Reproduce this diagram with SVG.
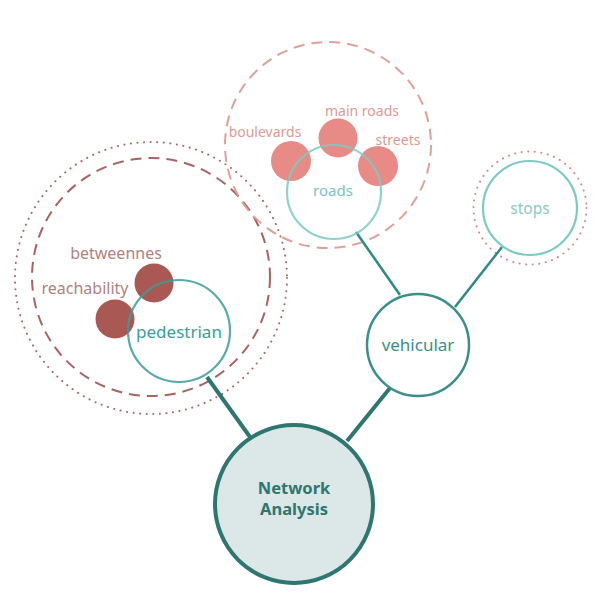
<svg xmlns="http://www.w3.org/2000/svg" width="609" height="597" viewBox="0 0 609 597">
<style>
text{font-family:"Noto Sans","Open Sans",sans-serif;text-anchor:middle;dominant-baseline:central}
.dash{fill:none;stroke-width:2;stroke-dasharray:11 7}
.dot{fill:none;stroke-width:2;stroke-dasharray:0.1 6.5;stroke-linecap:round}
.ring{fill:#fff;fill-opacity:0;stroke-width:2.2}
.lbl{font-size:14px}
</style>
<rect width="609" height="597" fill="#fff"/>
<g id="halos">
<circle cx="151" cy="278" r="136" class="dot" stroke="#a86a68"/>
<circle cx="151" cy="277" r="119" class="dash" stroke="#a86262"/>
<circle cx="328" cy="145" r="103" class="dash" stroke="#e0a09a"/>
<circle cx="530" cy="208" r="56.5" class="dot" stroke="#d08c88"/>
</g>
<g id="connectors" stroke-linecap="butt">
<line x1="207" y1="377" x2="250" y2="437" stroke="#2e7670" stroke-width="4"/>
<line x1="390" y1="388" x2="347" y2="441" stroke="#2e7670" stroke-width="4"/>
<line x1="356" y1="232" x2="400" y2="295" stroke="#2e8a84" stroke-width="2.5"/>
<line x1="502" y1="247" x2="455" y2="307" stroke="#2e8a84" stroke-width="2.5"/>
</g>
<g id="network-analysis">
<circle cx="294" cy="504" r="79" fill="#dce7e7" stroke="#2e7670" stroke-width="4"/>
<text x="294" y="487" font-size="16.5" font-weight="700" fill="#2e7670">Network</text>
<text x="294" y="508" font-size="16.5" font-weight="700" fill="#2e7670">Analysis</text>
</g>
<g id="pedestrian">
<circle cx="154" cy="283" r="19.5" fill="#aa5854"/>
<circle cx="115" cy="319" r="19.5" fill="#aa5854"/>
<circle cx="179" cy="331" r="51" class="ring" stroke="#3a9e98" stroke-opacity="0.85"/>
<text x="179" y="331" font-size="17" fill="#3a9e98">pedestrian</text>
</g>
<g id="betweennes"><text x="116" y="253" font-size="16" fill="#b08280">betweennes</text></g>
<g id="reachability"><text x="85" y="288" font-size="16" fill="#b08280">reachability</text></g>
<g id="roads">
<circle cx="291" cy="161" r="20" fill="#e88a86"/>
<circle cx="338" cy="138" r="19.5" fill="#e88a86"/>
<circle cx="378" cy="166" r="20" fill="#e88a86"/>
<circle cx="334" cy="192" r="47" class="ring" stroke="#7ccac4" stroke-opacity="0.85"/>
<text x="333" y="190" font-size="15" fill="#7cc4c0">roads</text>
</g>
<g id="main-roads"><text x="362" y="110" class="lbl" fill="#e09a94">main roads</text></g>
<g id="boulevards"><text x="265" y="131" class="lbl" fill="#e09a94">boulevards</text></g>
<g id="streets"><text x="398" y="139" class="lbl" fill="#e09a94">streets</text></g>
<g id="stops">
<circle cx="530" cy="208" r="47" class="ring" stroke="#7ccac4"/>
<text x="530" y="208" font-size="15.5" fill="#8ccac6">stops</text>
</g>
<g id="vehicular">
<circle cx="418" cy="345" r="51" fill="#fff" stroke="#3a8f8a" stroke-width="2.5"/>
<text x="418" y="344" font-size="17" fill="#3a8f8a">vehicular</text>
</g>
</svg>
